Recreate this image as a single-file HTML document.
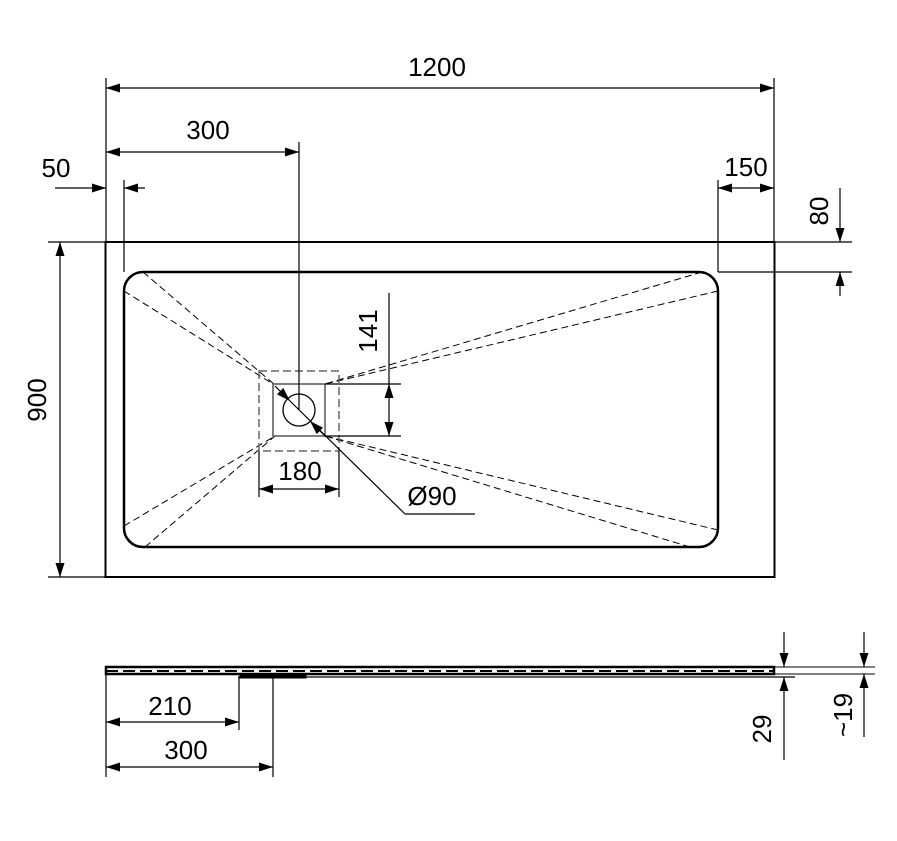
<!DOCTYPE html>
<html><head><style>html,body{margin:0;padding:0;background:#fff}svg{display:block}text{font-family:"Liberation Sans",sans-serif;font-size:26px;fill:#000}</style></head>
<body>
<svg width="897" height="841" viewBox="0 0 897 841" xmlns="http://www.w3.org/2000/svg">
<defs>
<marker id="a" viewBox="0 0 14 10" refX="14" refY="5" markerWidth="14" markerHeight="10" markerUnits="userSpaceOnUse" orient="auto-start-reverse"><path d="M0,0.5L14,5L0,9.5z" fill="#000"/></marker>
</defs>
<g stroke="#000" fill="none">
<rect x="105.5" y="242" width="669" height="335" stroke-width="2"/>
<rect x="124" y="272" width="594" height="275" rx="19" stroke-width="2.5"/>
<g stroke-dasharray="7,4" stroke-width="1">
<line x1="124" y1="291" x2="273" y2="384"/><line x1="143" y1="272" x2="275" y2="385"/>
<line x1="124" y1="526" x2="275" y2="436"/><line x1="145" y1="547" x2="275" y2="436"/>
<line x1="702" y1="272" x2="325" y2="384"/><line x1="718" y1="291" x2="325" y2="384"/>
<line x1="718" y1="530" x2="325" y2="436"/><line x1="690" y1="547" x2="325" y2="436"/>
</g>
<rect x="259" y="371" width="80" height="80" stroke="#666" stroke-dasharray="8,4" stroke-width="1.5"/>
<rect x="273" y="384" width="52" height="52" stroke="#555" stroke-width="1.5"/>
<circle cx="299" cy="410" r="16" stroke-width="1.3"/>
<g stroke-width="1.2">
<line x1="106" y1="78" x2="106" y2="242"/><line x1="774" y1="78" x2="774" y2="242"/>
<line x1="106" y1="88" x2="774" y2="88" marker-start="url(#a)" marker-end="url(#a)"/>
<line x1="106" y1="152" x2="299" y2="152" marker-start="url(#a)" marker-end="url(#a)"/>
<line x1="299" y1="142" x2="299" y2="410"/>
<line x1="124" y1="180" x2="124" y2="272"/>
<line x1="55" y1="188" x2="106" y2="188" marker-end="url(#a)"/>
<line x1="145" y1="188" x2="124" y2="188" marker-end="url(#a)"/>
<line x1="718" y1="180" x2="718" y2="272"/>
<line x1="718" y1="188" x2="774" y2="188" marker-start="url(#a)" marker-end="url(#a)"/>
<line x1="774" y1="242" x2="852" y2="242"/><line x1="718" y1="272" x2="852" y2="272"/>
<line x1="840" y1="188" x2="840" y2="242" marker-end="url(#a)"/>
<line x1="840" y1="296" x2="840" y2="272" marker-end="url(#a)"/>
<line x1="48" y1="242" x2="106" y2="242"/><line x1="48" y1="577" x2="106" y2="577"/>
<line x1="60" y1="242" x2="60" y2="577" marker-start="url(#a)" marker-end="url(#a)"/>
<line x1="325" y1="384" x2="401" y2="384"/><line x1="325" y1="436" x2="401" y2="436"/>
<line x1="389" y1="293" x2="389" y2="384"/>
<line x1="389" y1="384" x2="389" y2="436" marker-start="url(#a)" marker-end="url(#a)"/>
<line x1="259" y1="451" x2="259" y2="497"/><line x1="339" y1="451" x2="339" y2="497"/>
<line x1="259" y1="489" x2="339" y2="489" marker-start="url(#a)" marker-end="url(#a)"/>
<line x1="275" y1="386" x2="290" y2="401" marker-end="url(#a)"/>
<line x1="290" y1="401" x2="405" y2="514"/>
<line x1="405" y1="514" x2="475" y2="514"/>
<line x1="326" y1="437" x2="310" y2="421" marker-end="url(#a)"/>
</g>
<rect x="106" y="667" width="668" height="7" stroke-width="2.5"/>
<line x1="106" y1="671" x2="774" y2="671" stroke-dasharray="12,5" stroke-width="2"/>
<line x1="238" y1="677" x2="795" y2="677" stroke-width="1.2"/>
<rect x="240" y="675" width="66" height="3" fill="#000" stroke-width="1"/>
<line x1="774" y1="667" x2="875" y2="667" stroke-width="1"/>
<line x1="774" y1="674" x2="875" y2="674" stroke-width="1"/>
<g stroke-width="1.2">
<line x1="106" y1="674" x2="106" y2="777"/>
<line x1="239" y1="677" x2="239" y2="730"/>
<line x1="273" y1="677" x2="273" y2="777"/>
<line x1="106" y1="722" x2="239" y2="722" marker-start="url(#a)" marker-end="url(#a)"/>
<line x1="106" y1="767" x2="273" y2="767" marker-start="url(#a)" marker-end="url(#a)"/>
<line x1="784" y1="632" x2="784" y2="667" marker-end="url(#a)"/>
<line x1="784" y1="760" x2="784" y2="677" marker-end="url(#a)"/>
<line x1="864" y1="632" x2="864" y2="667" marker-end="url(#a)"/>
<line x1="864" y1="737" x2="864" y2="674" marker-end="url(#a)"/>
</g>
</g>
<text x="437" y="76" text-anchor="middle">1200</text>
<text x="208" y="139" text-anchor="middle">300</text>
<text x="56" y="177" text-anchor="middle">50</text>
<text x="746" y="176" text-anchor="middle">150</text>
<text transform="translate(828,211) rotate(-90)" text-anchor="middle">80</text>
<text transform="translate(46,400) rotate(-90)" text-anchor="middle">900</text>
<text transform="translate(377,331) rotate(-90)" text-anchor="middle">141</text>
<text x="300" y="480" text-anchor="middle">180</text>
<text x="432" y="505" text-anchor="middle">Ø90</text>
<text x="170" y="715" text-anchor="middle">210</text>
<text x="186" y="759" text-anchor="middle">300</text>
<text transform="translate(771,729) rotate(-90)" text-anchor="middle">29</text>
<text transform="translate(852,715) rotate(-90)" text-anchor="middle">~19</text>
</svg>
</body></html>
